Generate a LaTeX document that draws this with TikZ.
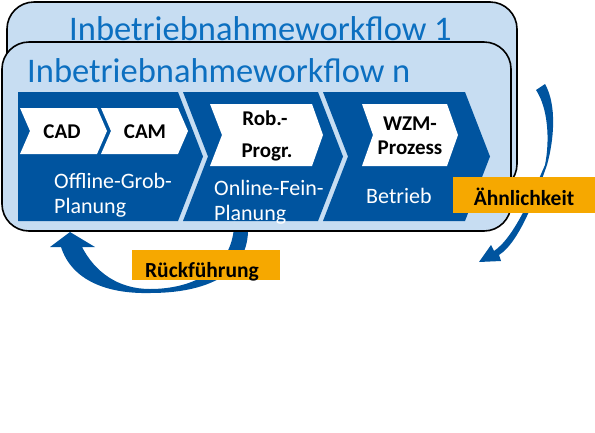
\documentclass[tikz,border=0pt]{standalone}
\usepackage{fontspec}
\setmainfont{Carlito}
\usepackage{tikz}
\usetikzlibrary{positioning, calc}
\usepackage{xcolor}
\definecolor{rwthblue}{RGB}{0,84,159}
\definecolor{paleblue}{RGB}{199,221,242}
\definecolor{titleblue}{RGB}{12,111,192}
\definecolor{tagorange}{RGB}{246,168,0}

\begin{document}
\begin{tikzpicture}[x=1pt, y=-1pt,
  flowbox/.style={draw=black, line width=1.6pt, fill=paleblue, rounded corners=27pt},
  titletext/.style={font=\fontsize{34.5}{40}\selectfont, text=titleblue, inner sep=0pt, anchor=base west},
  chevtext/.style={font=\fontsize{21}{24}\selectfont\bfseries, text=black, inner sep=0pt, anchor=base},
  phasetext/.style={font=\fontsize{22}{25}\selectfont, text=white, inner sep=0pt, anchor=base west},
  tagbox/.style={fill=tagorange, inner sep=0pt},
  tagtext/.style={font=\fontsize{21.5}{25}\selectfont\bfseries, text=black, inner sep=0pt, anchor=base}]
  \useasboundingbox (0,0) rectangle (595,432);

  % feedback arrows (behind the boxes)
  \fill[rwthblue] (248,226) .. controls (250,275) and (205,293) .. (150,293)
    .. controls (108,294) and (72,281) .. (61,247) -- (50,247) -- (70,232) -- (95,247) -- (82,247)
    .. controls (95,272) and (118,289) .. (150,289) .. controls (195,289) and (232,268) .. (234,226) -- cycle;
  \fill[rwthblue] (536,90) -- (545,84) .. controls (557,105) and (554,140) .. (547,165)
    .. controls (538,190) and (521,241) .. (499,255) -- (501,261) -- (479,262) -- (491,245) -- (494,251)
    .. controls (515,237) and (534,190) .. (545,165) .. controls (550,140) and (548,108) .. (536,90) -- cycle;

  % workflow boxes
  \draw[flowbox] (7,2) rectangle (517,191);
  \node[titletext] (title1) at (69,40) {Inbetriebnahmeworkflow 1};
  \draw[flowbox] (2,42) rectangle (511,231);
  \node[titletext] (titlen) at (27,82) {Inbetriebnahmeworkflow n};

  % phases
  \fill[rwthblue] (18,92) -- (178,92) -- (203,156.5) -- (178,221) -- (18,221) -- cycle;
  \fill[rwthblue] (183,92) -- (318,92) -- (343,156.5) -- (318,221) -- (183,221) -- (208,156.5) -- cycle;
  \fill[rwthblue] (323,92) -- (465,92) -- (490,156.5) -- (465,221) -- (323,221) -- (348,156.5) -- cycle;

  % steps
  \fill[white] (20,108) -- (97,108) -- (107,131) -- (97,154) -- (20,154) -- (30,131) -- cycle;
  \fill[white] (101,108) -- (178,108) -- (188,131) -- (178,154) -- (101,154) -- (111,131) -- cycle;
  \fill[white] (210,104) -- (312,104) -- (323,135) -- (312,166) -- (210,166) -- (222,135) -- cycle;
  \fill[white] (362,104) -- (447,104) -- (458,135) -- (447,166) -- (362,166) -- (373,135) -- cycle;

  \node[chevtext] (cad) at (62,138) {CAD};
  \node[chevtext] (cam) at (145,138) {CAM};
  \node[chevtext] (rob) at (265,125) {Rob.-};
  \node[chevtext] (progr) at (267,157) {Progr.};
  \node[chevtext] (wzm) at (410,130) {WZM-};
  \node[chevtext] (prozess) at (410,154) {Prozess};

  \node[phasetext] (offline) at (54,188) {Offline-Grob-};
  \node[phasetext] (offplan) at (54,213) {Planung};
  \node[phasetext] (online) at (214,195) {Online-Fein-};
  \node[phasetext] (onplan) at (214,220) {Planung};
  \node[phasetext] (betrieb) at (366,203) {Betrieb};

  % labels
  \node[tagbox, minimum width=142pt, minimum height=36pt] (simbox) at (524,195) {};
  \node[tagtext] (sim) at (524,205) {Ähnlichkeit};
  \node[tagbox, minimum width=148pt, minimum height=30pt] (backbox) at (206,265) {};
  \node[tagtext] (back) at (202,277) {Rückführung};
\end{tikzpicture}
\end{document}
